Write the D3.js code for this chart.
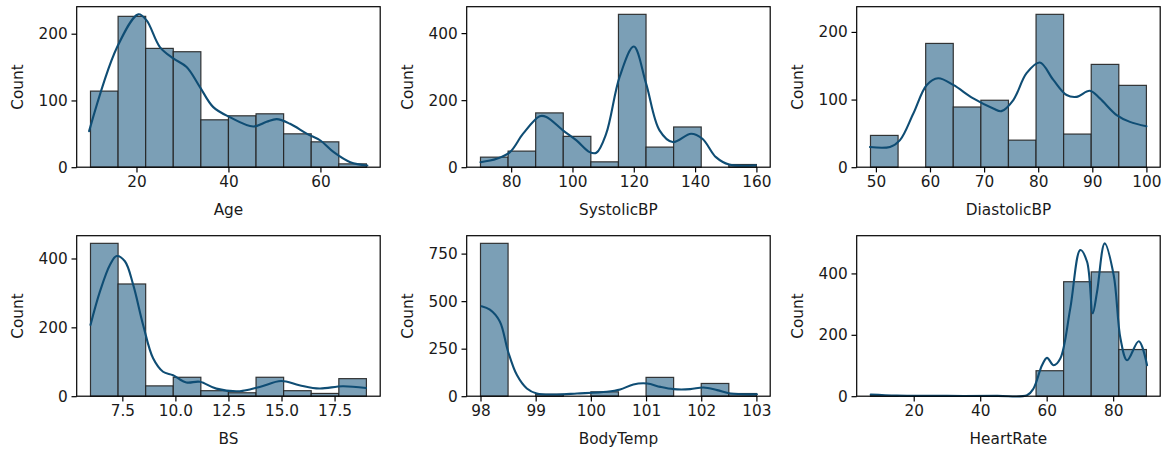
<!DOCTYPE html>
<html>
<head>
<meta charset="utf-8">
<script src="https://cdn.jsdelivr.net/npm/d3@7"></script>
<style>
  html, body { margin: 0; padding: 0; background: #fff; }
  svg { display: block; font-family: "DejaVu Sans", sans-serif; }
</style>
</head>
<body>
<svg id="chart" width="1170" height="453"></svg>
<script>
// ---- Histogram data (10 equal-width bins over each variable's range) ----
const variables = ["Age", "SystolicBP", "DiastolicBP", "BS", "BodyTemp", "HeartRate"];

const ageRange = [10, 70];
const ageCounts = [114, 226, 178, 173, 71, 77, 80, 50, 38, 5];
const ageKde = [[9.7,54],[15.8,180],[20.4,229],[22.2,220],[25.1,180],[28.0,163],[30.9,150],[33.8,120],[36.7,90],[40.3,75],[45.4,61],[48.3,68],[50.5,72],[53.4,65],[57.1,50],[60,40],[62.9,22.5],[66.5,7.5],[70.2,2.5]];
const ageXTicks = [20, 40, 60];
const ageYTicks = [0, 100, 200];

const sysRange = [70, 160];
const sysCounts = [30, 48, 162, 92, 16, 456, 60, 120, 0, 8];
const sysKde = [[70,15],[75.3,25],[79.6,45],[83.9,100],[89.3,152],[91.5,150],[96.9,110],[101.3,80],[105.6,45],[107.8,43],[111,100],[115.4,270],[120,360],[124,250],[128.4,110],[132.7,75],[138.7,100],[142.4,85],[146.8,30],[151.1,8],[159.8,6]];
const sysXTicks = [80, 100, 120, 140, 160];
const sysYTicks = [0, 200, 400];

const diaRange = [49, 100];
const diaCounts = [47, 0, 183, 89, 99, 40, 226, 49, 152, 121];
const diaKde = [[48.9,29.8],[52.6,30],[54.45,40],[56.9,79],[59.4,121.6],[61.5,131.5],[64.3,121.6],[68,101.7],[71.7,86.8],[73.2,82.9],[75.4,99.3],[77.85,139],[80.3,154.8],[82.8,129],[85.25,106.7],[87.1,104],[89.55,113],[91.4,101.7],[94.5,77],[96.95,67],[100,60.5]];
const diaXTicks = [50, 60, 70, 80, 90, 100];
const diaYTicks = [0, 100, 200];

const bsRange = [6, 19];
const bsCounts = [444, 326, 30, 55, 16, 10, 55, 16, 8, 51];
const bsKde = [[6,207],[6.45,305],[6.92,382],[7.23,407],[7.62,392],[8.01,324],[8.48,207],[8.95,110],[9.42,71],[9.89,61],[10.52,40],[11.15,42],[11.93,22],[13.03,14.6],[13.97,27],[14.98,44],[15.84,32],[16.78,22.4],[17.88,29],[18.98,24]];
const bsXTicks = [7.5, 10.0, 12.5, 15.0, 17.5];
const bsYTicks = [0, 200, 400];

const tempRange = [98, 103];
const tempCounts = [804, 0, 10, 0, 23, 0, 99, 0, 67, 14];
const tempKde = [[98.02,473],[98.17,455],[98.35,393],[98.5,235],[98.66,111],[98.84,40.6],[99.02,14],[99.38,9],[99.75,14],[100.29,23],[100.53,35],[100.77,62],[101.02,67],[101.26,49],[101.5,37],[101.8,37],[102.04,46],[102.29,32],[102.53,14],[103.01,10]];
const tempXTicks = [98, 99, 100, 101, 102, 103];
const tempYTicks = [0, 250, 500, 750];

const hrRange = [7, 90];
const hrCounts = [2, 0, 0, 0, 0, 0, 83, 373, 405, 152];
const hrKde = [[7.07,5.4],[14.9,2],[30,1],[45,1],[54.1,3],[56.05,25],[58.6,101],[60.1,125],[62.1,101],[64.1,123],[67.1,286],[70.1,476],[72.15,438],[73.85,270],[75.15,340],[77.45,498],[80.15,395],[82.2,188],[84.2,117],[87.7,179],[90.2,101]];
const hrXTicks = [20, 40, 60, 80];
const hrYTicks = [0, 200, 400];

// ---- Panel table built from the arrays above ----
const panels = [
  { label: variables[0], range: ageRange,  counts: ageCounts,  kde: ageKde,  xt: ageXTicks,  yt: ageYTicks,  fmt: d3.format("d") },
  { label: variables[1], range: sysRange,  counts: sysCounts,  kde: sysKde,  xt: sysXTicks,  yt: sysYTicks,  fmt: d3.format("d") },
  { label: variables[2], range: diaRange,  counts: diaCounts,  kde: diaKde,  xt: diaXTicks,  yt: diaYTicks,  fmt: d3.format("d") },
  { label: variables[3], range: bsRange,   counts: bsCounts,   kde: bsKde,   xt: bsXTicks,   yt: bsYTicks,   fmt: d3.format(".1f") },
  { label: variables[4], range: tempRange, counts: tempCounts, kde: tempKde, xt: tempXTicks, yt: tempYTicks, fmt: d3.format("d") },
  { label: variables[5], range: hrRange,   counts: hrCounts,   kde: hrKde,   xt: hrXTicks,   yt: hrYTicks,   fmt: d3.format("d") }
];

// ---- Layout ----
const colLeft = [76.7, 466.7, 856.7];
const rowTop = [6.7, 235.7];
const axW = 303.5, axH = 160.5;
const fontPx = "15.3px";

const barFill = "#7b9fb6";
const barStroke = "#222";
const lineColor = "#0f4d74";
const textColor = "#1a1a1a";

const svg = d3.select("#chart");

panels.forEach((p, i) => {
  const col = i % 3, row = Math.floor(i / 3);
  const g = svg.append("g").attr("transform", `translate(${colLeft[col]},${rowTop[row]})`);

  const [lo, hi] = p.range;
  const pad = (hi - lo) * 0.05;
  const x = d3.scaleLinear().domain([lo - pad, hi + pad]).range([0, axW]);

  const n = p.counts.length;
  const w = (hi - lo) / n;
  const bins = p.counts.map((c, k) => ({ x0: lo + k * w, x1: lo + (k + 1) * w, c }));
  const ymax = d3.max([d3.max(p.counts), d3.max(p.kde, d => d[1])]) * 1.05;
  const y = d3.scaleLinear().domain([0, ymax]).range([axH, 0]);

  // bars
  g.selectAll("rect.bar").data(bins.filter(b => b.c > 0)).join("rect")
    .attr("class", "bar")
    .attr("x", d => x(d.x0))
    .attr("y", d => y(d.c))
    .attr("width", d => x(d.x1) - x(d.x0))
    .attr("height", d => y(0) - y(d.c))
    .attr("fill", barFill)
    .attr("stroke", barStroke)
    .attr("stroke-opacity", 0.9)
    .attr("stroke-width", 1.2);

  // kernel density curve
  const line = d3.line().x(d => x(d[0])).y(d => y(d[1])).curve(d3.curveCatmullRom.alpha(0.5));
  g.append("path").datum(p.kde)
    .attr("d", line)
    .attr("fill", "none")
    .attr("stroke", lineColor)
    .attr("stroke-width", 2.1)
    .attr("stroke-linejoin", "round")
    .attr("stroke-linecap", "round");

  // frame
  g.append("rect").attr("x", 0).attr("y", 0).attr("width", axW).attr("height", axH)
    .attr("fill", "none").attr("stroke", "#000").attr("stroke-width", 1.2);

  // axes
  const xa = g.append("g").attr("transform", `translate(0,${axH})`)
    .call(d3.axisBottom(x).tickValues(p.xt).tickFormat(p.fmt).tickSize(5.2).tickPadding(3.8));
  const ya = g.append("g")
    .call(d3.axisLeft(y).tickValues(p.yt).tickFormat(d3.format("d")).tickSize(5.2).tickPadding(3.8));
  [xa, ya].forEach(a => {
    a.select(".domain").remove();
    a.selectAll(".tick line").attr("stroke", "#000").attr("stroke-width", 1.2);
    a.selectAll(".tick text").attr("fill", textColor).style("font-size", fontPx)
      .style("font-family", "'DejaVu Sans', sans-serif");
  });

  // axis titles
  g.append("text")
    .attr("x", axW / 2).attr("y", axH + 48)
    .attr("text-anchor", "middle")
    .attr("fill", textColor).style("font-size", fontPx)
    .text(p.label);
  g.append("text")
    .attr("transform", `translate(${17.3 - colLeft[col] + (col * 390)},${axH / 2}) rotate(-90)`)
    .attr("text-anchor", "middle")
    .attr("dy", "0.35em")
    .attr("fill", textColor).style("font-size", fontPx)
    .text("Count");
});
</script>
</body>
</html>
